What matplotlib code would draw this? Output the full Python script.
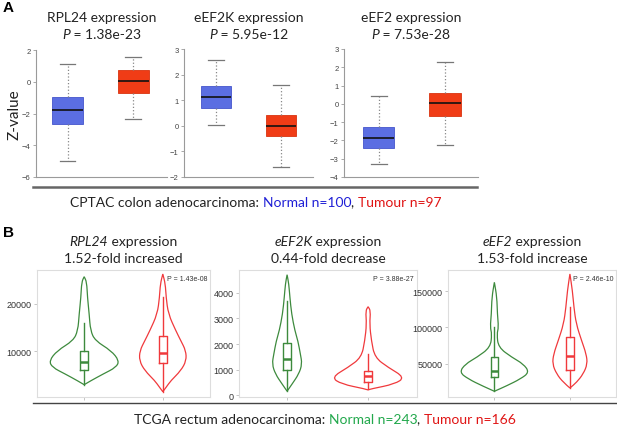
import numpy as np
import matplotlib
matplotlib.use("Agg")
import matplotlib.pyplot as plt
from matplotlib.path import Path
from matplotlib.patches import PathPatch

W, H = 617, 427
TITLE_FONT = "Lato"
TICK_FONT = "Liberation Sans"

# ---- Panel A: CPTAC box plots (whislo, q1, med, q3, whishi) ----
a_genes = ["RPL24", "eEF2K", "eEF2"]
a_pvals = ["1.38e-23", "5.95e-12", "7.53e-28"]
a_normal = [
    [-5.0, -2.65, -1.78, -0.98, 1.1],
    [0.05, 0.70, 1.13, 1.54, 2.57],
    [-3.29, -2.41, -1.84, -1.26, 0.44],
]
a_tumour = [
    [-2.36, -0.70, 0.05, 0.77, 1.55],
    [-1.61, -0.40, 0.0, 0.41, 1.59],
    [-2.23, -0.69, 0.02, 0.57, 2.30],
]
a_ylims = [(-6, 2), (-2, 3), (-4, 3)]
a_yticks = [[-6, -4, -2, 0, 2], [-2, -1, 0, 1, 2, 3], [-4, -3, -2, -1, 0, 1, 2, 3]]

# ---- Panel B: TCGA violins ----
b_genes = ["RPL24", "eEF2K", "eEF2"]
b_subtitles = ["1.52-fold increased", "0.44-fold decrease", "1.53-fold increase"]
b_pvals = ["P = 1.43e-08", "P = 3.88e-27", "P = 2.46e-10"]
b_yticks = [[10000, 20000], [0, 1000, 2000, 3000, 4000], [50000, 100000, 150000]]
b_ylims = [(400, 27250), (-55, 4906), (4420, 179800)]

# violin outlines: expression level and half width (px)
rpl24_n_y = [2940, 3780, 5200, 6620, 8010, 10130, 12240, 14360, 17890, 21420, 24650, 25770]
rpl24_n_w = [0, 6.7, 19, 32, 35, 27, 11, 6.3, 5, 3.3, 2.5, 0]
rpl24_t_y = [1460, 2390, 3780, 5900, 8010, 10130, 12240, 14360, 17890, 21420, 24230, 26340]
rpl24_t_w = [0, 3.3, 8, 18, 23.5, 23, 18, 13, 5.5, 3.3, 2.5, 0]
eef2k_n_y = [160, 440, 830, 1220, 1610, 2130, 2520, 3180, 3830, 4350, 4710]
eef2k_n_w = [0, 5, 11.7, 15, 13.3, 10.8, 7.8, 4.5, 2.8, 1.7, 0]
eef2k_t_y = [210, 250, 440, 700, 1090, 1480, 2130, 2785, 3300, 3460]
eef2k_t_w = [0, 3, 26.7, 36.7, 20, 6.7, 3.3, 1.5, 2.5, 0]
eef2_n_y = [11900, 19600, 28900, 38100, 49600, 58800, 72600, 91000, 100300, 118600, 141700, 162400]
eef2_n_w = [0, 12.5, 26, 35, 29, 17.5, 4, 2.5, 4.2, 3, 2.5, 0]
eef2_t_y = [16400, 24300, 35800, 49600, 63400, 81800, 104800, 127900, 150800, 173900]
eef2_t_w = [0, 6.7, 13.3, 17.5, 16.3, 11.7, 6.3, 4, 2.5, 0]

b_normal_shape = [(rpl24_n_y, rpl24_n_w), (eef2k_n_y, eef2k_n_w), (eef2_n_y, eef2_n_w)]
b_tumour_shape = [(rpl24_t_y, rpl24_t_w), (eef2k_t_y, eef2k_t_w), (eef2_t_y, eef2_t_w)]

b_normal_box = [
    [2940, 6050, 7740, 10000, 15900],
    [160, 990, 1410, 2060, 3700],
    [11900, 32040, 40300, 59250, 100300],
]
b_tumour_box = [
    [1460, 7530, 9700, 13170, 21400],
    [250, 530, 740, 960, 1620],
    [16400, 41300, 61000, 86500, 128000],
]

BLUE, RED_A = "#5b6ee2", "#f03c16"
GREEN, RED_B = "#3d8a3d", "#f0393c"

fig = plt.figure(figsize=(W / 100, H / 100), dpi=100)
renderer = fig.canvas.get_renderer()


def px_axes(l, r, t, b):
    return fig.add_axes([l / W, 1 - b / H, (r - l) / W, (b - t) / H])


def rich_text(xc, y, parts, size):
    """Centre a run of differently styled text pieces at pixel (xc, y)."""
    texts = []
    for s, color, style in parts:
        t = fig.text(0, 1 - y / H, s, color=color, style=style, fontsize=size,
                     family=TITLE_FONT, va="center", ha="left")
        texts.append(t)
    widths = [t.get_window_extent(renderer).width for t in texts]
    cur = xc - sum(widths) / 2
    for t, w in zip(texts, widths):
        t.set_x(cur / W)
        cur += w


def stats(v):
    return dict(whislo=v[0], q1=v[1], med=v[2], q3=v[3], whishi=v[4], fliers=[])


def smooth_outline(ax, xs, ys, color):
    # quadratic bezier through the midpoints of the read outline points
    pts = np.column_stack([xs, ys])
    verts = [pts[0]]
    codes = [Path.MOVETO]
    for k in range(1, len(pts) - 1):
        mid = (pts[k] + pts[k + 1]) / 2
        verts += [pts[k], mid]
        codes += [Path.CURVE3, Path.CURVE3]
    verts.append(pts[-1])
    codes.append(Path.LINETO)
    ax.add_patch(PathPatch(Path(verts, codes), fill=False, edgecolor=color, linewidth=0.9))


# Panel A
a_boxes = [(36, 166.7, 51, 178, (0.52, 2.51)),
           (184, 313, 50, 178, (0.51, 2.49)),
           (344, 478, 50, 178, (0.47, 2.5))]
for i, (l, r, t, b, xl) in enumerate(a_boxes):
    ax = px_axes(l, r, t, b)
    bp = ax.bxp([stats(a_normal[i]), stats(a_tumour[i])], positions=[1, 2],
                widths=0.47, capwidths=0.24, patch_artist=True,
                whiskerprops=dict(color="#888888", linestyle=":", linewidth=0.9),
                capprops=dict(color="#777777", linewidth=0.9),
                medianprops=dict(color="#111111", linewidth=1.2))
    for patch, fc, ec in zip(bp["boxes"], [BLUE, RED_A], ["#4455cc", "#d8330f"]):
        patch.set_facecolor(fc)
        patch.set_edgecolor(ec)
        patch.set_linewidth(0.6)
    ax.set_xlim(*xl)
    ax.set_ylim(*a_ylims[i])
    ax.set_yticks(a_yticks[i])
    ax.set_xticks([])
    for s in ["top", "right"]:
        ax.spines[s].set_visible(False)
    for s in ["left", "bottom"]:
        ax.spines[s].set_color("#9a9a9a")
        ax.spines[s].set_linewidth(0.8)
    ax.tick_params(axis="y", length=2, width=0.6, color="#9a9a9a", pad=2,
                   labelsize=5.5, labelcolor="#444444")
    for lab in ax.get_yticklabels():
        lab.set_family(TICK_FONT)
    xc = (l + r) / 2
    rich_text(xc, 17.5, [(a_genes[i] + " expression", "#222222", "normal")], 10)
    rich_text(xc, 35, [("P", "#222222", "italic"), (" = " + a_pvals[i], "#222222", "normal")], 10)

fig.text(15 / W, 1 - 115 / H, "Z-value", rotation=90, fontsize=11, family=TITLE_FONT,
         va="center", ha="center", color="#222222")
fig.text(3 / W, 1 - 8 / H, "A", fontsize=11, fontweight="bold", family=TICK_FONT,
         va="center", ha="left")
fig.add_artist(plt.Line2D([33 / W, 477 / W], [1 - 188 / H] * 2, color="#666666", linewidth=1.8))
rich_text(256, 203, [("CPTAC colon adenocarcinoma: ", "#222222", "normal"),
                     ("Normal n=100", "#1f1fd6", "normal"),
                     (", ", "#222222", "normal"),
                     ("Tumour n=97", "#e01414", "normal")], 10)

# Panel B
b_boxes = [(37, 210, 270.7, 397.7, (0.4, 2.6)),
           (239.3, 416.7, 270.7, 397.7, (0.41, 2.6)),
           (448.3, 616, 270.7, 397.7, (0.39, 2.61))]
for i, (l, r, t, b, xl) in enumerate(b_boxes):
    ax = px_axes(l, r, t, b)
    ppu = (r - l) / (xl[1] - xl[0])  # pixels per x unit
    for pos, (vy, vw), box, col in [(1, b_normal_shape[i], b_normal_box[i], GREEN),
                                    (2, b_tumour_shape[i], b_tumour_box[i], RED_B)]:
        vy = np.array(vy, dtype=float)
        vw = np.array(vw, dtype=float) / ppu
        xs = np.concatenate([pos - vw, (pos + vw)[::-1]])
        ys = np.concatenate([vy, vy[::-1]])
        smooth_outline(ax, xs, ys, col)
        ax.bxp([stats(box)], positions=[pos], widths=0.1, showcaps=False,
               boxprops=dict(color=col, linewidth=1.0),
               whiskerprops=dict(color=col, linewidth=1.0),
               medianprops=dict(color=col, linewidth=1.8))
    ax.set_xlim(*xl)
    ax.set_ylim(*b_ylims[i])
    ax.set_yticks(b_yticks[i])
    ax.set_xticks([1, 2])
    ax.set_xticklabels(["", ""])
    for s in ax.spines.values():
        s.set_color("#dddddd")
        s.set_linewidth(0.8)
    ax.tick_params(length=2, width=0.6, color="#bbbbbb", pad=2, labelsize=6.5,
                   labelcolor="#333333")
    for lab in ax.get_yticklabels():
        lab.set_family(TICK_FONT)
    ax.text(0.985, 0.96, b_pvals[i], transform=ax.transAxes, ha="right", va="top",
            fontsize=5, family=TICK_FONT, color="#333333")
    xc = (l + r) / 2
    rich_text(xc, 241.7, [(b_genes[i], "#222222", "italic"), (" expression", "#222222", "normal")], 10)
    rich_text(xc, 259, [(b_subtitles[i], "#222222", "normal")], 10)

fig.text(3 / W, 1 - 233 / H, "B", fontsize=11, fontweight="bold", family=TICK_FONT,
         va="center", ha="left")
fig.add_artist(plt.Line2D([33 / W, 617 / W], [1 - 404 / H] * 2, color="#444444", linewidth=1.0))
rich_text(325, 420, [("TCGA rectum adenocarcinoma: ", "#222222", "normal"),
                     ("Normal n=243", "#22a84c", "normal"),
                     (", ", "#222222", "normal"),
                     ("Tumour n=166", "#e01414", "normal")], 10)

fig.savefig("out.png", dpi=100)
